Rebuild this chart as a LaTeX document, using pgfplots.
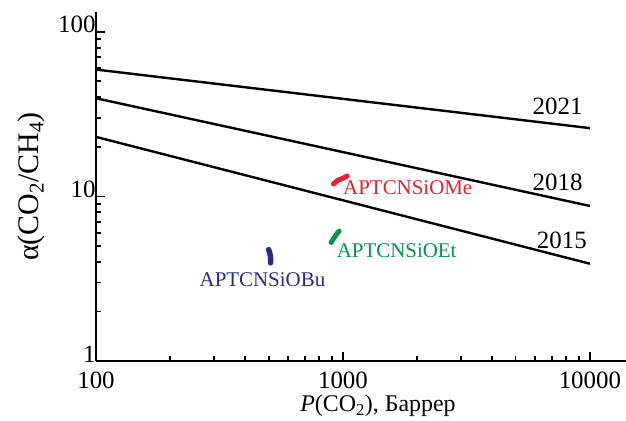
\documentclass[border=0pt]{standalone}
\usepackage{fontspec}
\setmainfont{Liberation Serif}
\usepackage{pgfplots}
\pgfplotsset{compat=1.18}
\definecolor{meRed}{RGB}{232,32,44}
\definecolor{etGreen}{RGB}{0,150,72}
\definecolor{buBlue}{RGB}{40,42,140}
\begin{document}
\begin{tikzpicture}
\begin{axis}[
    scale only axis,
    width=530bp, height=349bp,
    xmode=log, ymode=log,
    xmin=100, xmax=14000,
    ymin=1, ymax=132,
    axis x line=bottom, axis y line=left,
    axis line style={-, line width=2.4bp},
    tick align=inside,
    major tick length=9bp, minor tick length=5.5bp,
    every tick/.style={black, line width=1.8bp},
    xtick={100,1000,10000}, ytick={1,10,100},
    xticklabels={100,1000,10000}, yticklabels={1,10,100},
    tick label style={font=\fontsize{25}{27}\selectfont},
    xticklabel style={anchor=north, yshift=-7bp},
    yticklabel style={anchor=east, xshift=3bp, yshift=7bp},
    /pgf/number format/assume math mode=true,
    xlabel={\textit{P}(CO\textsubscript{2}), Баррер},
    ylabel={α(CO\textsubscript{2}/CH\textsubscript{4})},
    xlabel style={font=\fontsize{24}{26}\selectfont, at={(rel axis cs:0.5,0)}, anchor=center, xshift=17bp, yshift=-45bp},
    ylabel style={font=\fontsize{30}{32}\selectfont, at={(rel axis cs:0,0.5)}, anchor=center, yshift=65bp},
    clip=false,
]
% trade-off upper bounds
\addplot[black, line width=2.4bp] coordinates {(100,59) (10000,26)};
\addplot[black, line width=2.4bp] coordinates {(100,39.5) (10000,8.75)};
\addplot[black, line width=2.4bp] coordinates {(100,23) (10000,3.9)};
% membranes
\addplot[meRed, line width=5pt, line cap=round] coordinates {(915,11.9) (950,12.5) (1000,12.9) (1040,13.3)};
\addplot[etGreen, line width=5pt, line cap=round] coordinates {(895,5.25) (920,5.6) (950,6.0) (965,6.15)};
\addplot[buBlue, line width=5.5pt, line cap=round] coordinates {(500,4.75) (506,4.5) (510,4.2) (509,3.95)};
\node[font=\fontsize{25}{27}\selectfont] at (axis cs:7400,35.5) {2021};
\node[font=\fontsize{25}{27}\selectfont] at (axis cs:7400,12.2) {2018};
\node[font=\fontsize{25}{27}\selectfont] at (axis cs:7700,5.4) {2015};
\node[font=\fontsize{21}{23}\selectfont, text=meRed] at (axis cs:1830,11.3) {APTCNSiOMe};
\node[font=\fontsize{21}{23}\selectfont, text=etGreen] at (axis cs:1650,4.7) {APTCNSiOEt};
\node[font=\fontsize{21}{23}\selectfont, text=buBlue] at (axis cs:472,3.1) {APTCNSiOBu};
\coordinate (ll) at (rel axis cs:0,0);
\coordinate (ur) at (rel axis cs:1,1);
\end{axis}
\pgfresetboundingbox
\path ([xshift=-96bp,yshift=-60bp]ll) rectangle ([yshift=12bp]ur);
\end{tikzpicture}
\end{document}
